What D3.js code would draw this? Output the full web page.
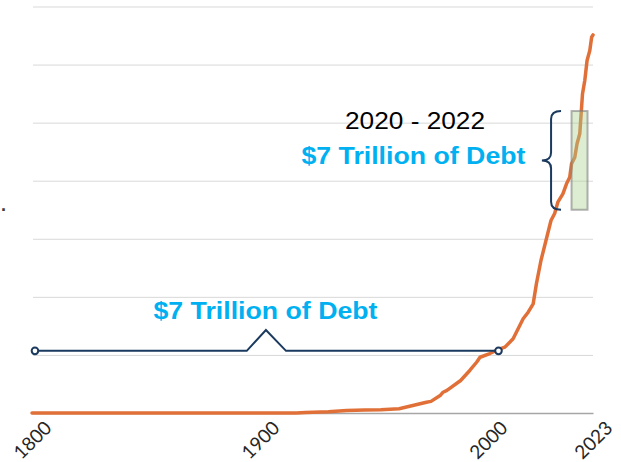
<!DOCTYPE html>
<html>
<head>
<meta charset="utf-8">
<script src="https://cdn.jsdelivr.net/npm/d3@7"></script>
<style>
  body { margin: 0; background: #fff; }
  svg { display: block; }
</style>
</head>
<body>
<div id="chart"></div>
<script>
// US federal debt, trillions of dollars
const years = [1800, 1860, 1900, 1916, 1920, 1930, 1938, 1946, 1953, 1961, 1973, 1975, 1979,
  1980.3, 1982, 1988, 1992, 1995, 1996.5, 2000.4, 2002.3, 2003.7, 2005.5, 2007.7, 2008.8,
  2009.9, 2010.6, 2011.6, 2012.7, 2013.8, 2014.6, 2015.3, 2016.4, 2017.2, 2017.9, 2018.3,
  2019.0, 2019.5, 2020.1, 2020.4, 2020.7, 2021.2, 2021.7, 2022.3, 2022.7, 2023];
const debt = [0, 0, 0, 0.01, 0.05, 0.1, 0.22, 0.26, 0.28, 0.36, 0.93, 1.0, 1.5,
  1.79, 1.95, 2.8, 3.66, 4.37, 4.8, 5.12, 5.47, 5.67, 6.39, 8.11, 8.68,
  9.4, 11.12, 13.13, 14.85, 16.57, 17.18, 18.15, 18.87, 19.73, 20.3, 21.46,
  22.0, 23.18, 24.04, 25.76, 27.48, 28.63, 30.35, 31.21, 32.36, 32.55];

const tickYears = [1800, 1900, 2000, 2023];
const gridValues = [5, 10, 15, 20, 25, 30, 35];

// annotations (year / trillions)
const spanYears = [1801.3, 1894.2, 1902.6, 1911.4, 2002.3];
const spanValues = [5.35, 5.35, 7.15, 5.35, 5.35];
const boxYears = [2018.3, 2021.8];
const boxValues = [17.5, 26.0];
const braceYears = [2011.8, 2016.0];
const noteTexts = ["$7 Trillion of Debt", "2020 - 2022", "$7 Trillion of Debt"];
const noteYears = [1902.4, 1968, 1967.3];
const noteValues = [8.09, 24.41, 21.48];

(() => {
  const width = 621;
  const height = 462;
  const navy = "#1b3a5f";
  const blue = "#00b0f0";

  const svg = d3
    .select("#chart")
    .append("svg")
    .attr("width", width)
    .attr("height", height);

  // the category axis is wider for the recent years
  const x = d3.scaleLinear().domain([1800, 2000, 2023]).range([32, 488, 593]);
  const y = d3.scaleLinear().domain([0, 35]).range([413, 6.5]);

  // Grid
  svg
    .append("g")
    .attr("transform", "translate(33,0)")
    .call(d3.axisLeft(y).tickValues(gridValues).tickSize(-560).tickFormat(""))
    .call((g) => g.select(".domain").remove())
    .selectAll(".tick line")
    .style("stroke", "#d9d9d9");

  // X axis
  const xAxis = svg
    .append("g")
    .attr("transform", `translate(0, ${y(0)})`)
    .call(
      d3.axisBottom(x).tickValues(tickYears).tickSize(0).tickSizeOuter(0).tickFormat(d3.format("d"))
    );
  xAxis.select(".domain").style("stroke", "#a6a6a6").style("stroke-width", 1.5);
  xAxis
    .selectAll("text")
    .attr("y", null)
    .attr("dy", "0.35em")
    .attr("transform", "translate(0,27) rotate(-45)")
    .attr("text-anchor", "middle")
    .style("font-family", "Lato, 'Open Sans', sans-serif")
    .style("font-size", "19px")
    .style("fill", "#262626");

  // Debt line
  const line = d3
    .line()
    .x((d, i) => x(years[i]))
    .y((d) => y(d));
  svg
    .append("path")
    .datum(debt)
    .attr("d", line)
    .attr("fill", "none")
    .attr("stroke", "#e07038")
    .attr("stroke-width", 3.5)
    .attr("stroke-linejoin", "round")
    .attr("stroke-linecap", "round");

  // 2020-2022 box
  svg
    .append("rect")
    .attr("x", x(boxYears[0]))
    .attr("y", y(boxValues[1]))
    .attr("width", x(boxYears[1]) - x(boxYears[0]))
    .attr("height", y(boxValues[0]) - y(boxValues[1]))
    .attr("fill", "rgba(169,209,142,0.4)")
    .attr("stroke", "rgba(127,127,127,0.6)")
    .attr("stroke-width", 2);

  // Curly brace
  const top = y(boxValues[1]);
  const bottom = y(boxValues[0]);
  const mid = (top + bottom) / 2;
  const tipX = x(braceYears[0]);
  const endX = x(braceYears[1]);
  const midX = tipX + (endX - tipX) * 0.48;
  svg
    .append("path")
    .attr(
      "d",
      `M${endX},${top} Q${midX},${top} ${midX},${top + 8} L${midX},${mid - 8}` +
        ` Q${midX},${mid} ${tipX},${mid} Q${midX},${mid} ${midX},${mid + 8}` +
        ` L${midX},${bottom - 8} Q${midX},${bottom} ${endX},${bottom}`
    )
    .attr("fill", "none")
    .attr("stroke", navy)
    .attr("stroke-width", 2);

  // 1800-2000 span
  svg
    .append("path")
    .datum(spanValues)
    .attr(
      "d",
      d3
        .line()
        .x((d, i) => x(spanYears[i]))
        .y((d) => y(d))
    )
    .attr("fill", "none")
    .attr("stroke", navy)
    .attr("stroke-width", 2);
  svg
    .selectAll(".span-end")
    .data([0, spanYears.length - 1])
    .join("circle")
    .attr("class", "span-end")
    .attr("cx", (i) => x(spanYears[i]))
    .attr("cy", (i) => y(spanValues[i]))
    .attr("r", 3.3)
    .attr("fill", "#fff")
    .attr("stroke", navy)
    .attr("stroke-width", 2);

  // Notes
  svg
    .selectAll(".note")
    .data(noteTexts)
    .join("text")
    .attr("class", "note")
    .attr("x", (d, i) => x(noteYears[i]))
    .attr("y", (d, i) => y(noteValues[i]))
    .attr("text-anchor", "middle")
    .attr("textLength", (d, i) => (i === 1 ? 140 : 224))
    .attr("lengthAdjust", "spacingAndGlyphs")
    .style("font-family", "'Liberation Sans', Arial, sans-serif")
    .style("font-size", (d, i) => (i === 1 ? "23px" : "24px"))
    .style("font-weight", (d, i) => (i === 1 ? "normal" : "bold"))
    .style("fill", (d, i) => (i === 1 ? "#000" : blue))
    .text((d) => d);

  // stray mark at the left edge
  svg
    .append("text")
    .attr("x", 1)
    .attr("y", 211)
    .style("font-family", "'Liberation Sans', Arial, sans-serif")
    .style("font-size", "18px")
    .style("font-weight", "bold")
    .style("fill", "#404040")
    .text(".");
})();
</script>
</body>
</html>
